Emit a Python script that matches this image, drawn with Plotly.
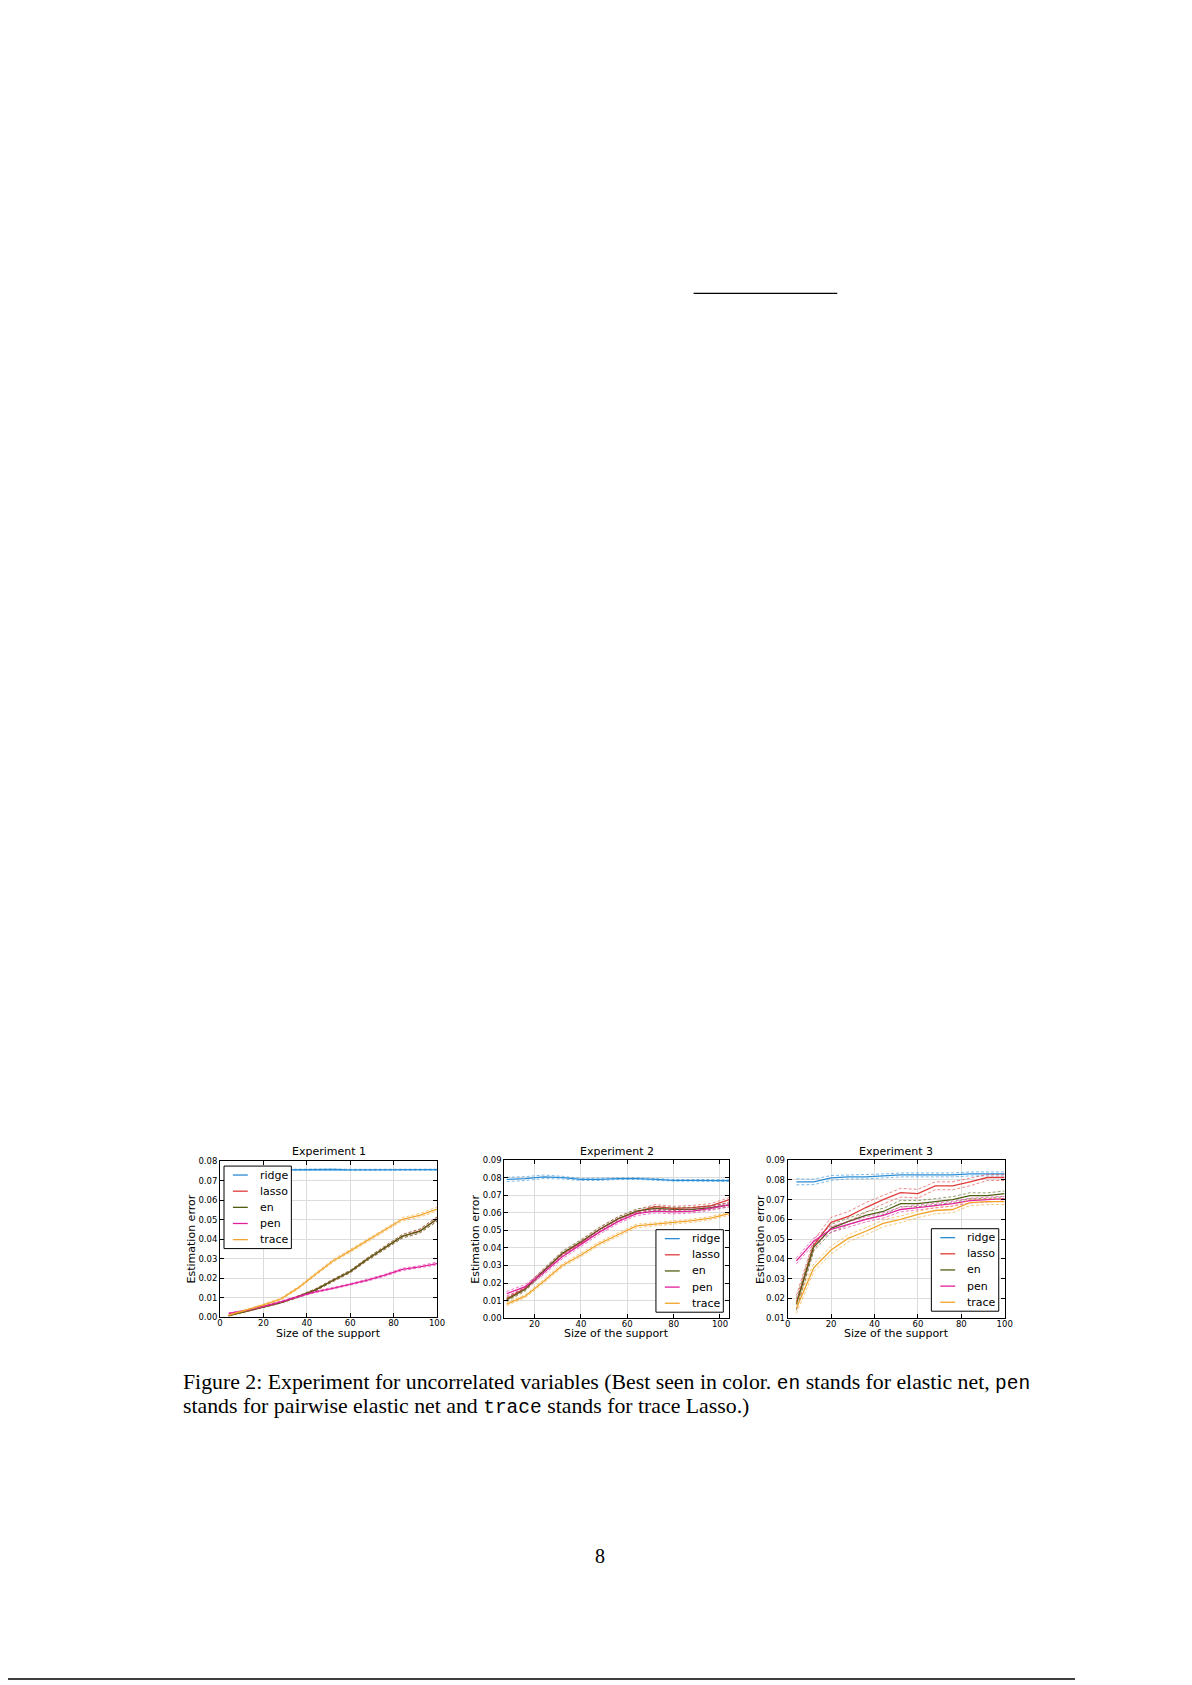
import plotly.graph_objects as go

# page size of the reference; the browser body adds an 8px margin, so the
# figure is drawn 8px smaller and all page positions are shifted by 8px.
W, H = 1192, 1685
OFF = 8
FW, FH = W - OFF, H - OFF

# ---------------- data ----------------
x_exp1 = [4, 12, 20, 28, 36, 44, 52, 60, 68, 76, 84, 92, 100]
x_exp2 = [8, 16, 24, 32, 40, 48, 56, 64, 72, 80, 88, 96, 104]
x_exp3 = [4, 12, 20, 28, 36, 44, 52, 60, 68, 76, 84, 92, 100]

series_names = ["ridge", "lasso", "en", "pen", "trace"]
experiment_titles = ["Experiment 1", "Experiment 2", "Experiment 3"]

# Experiment 1 (means)
exp1_ridge = [0.0754, 0.0753, 0.0754, 0.0755, 0.0756, 0.0756, 0.0757, 0.0755, 0.0755, 0.0756, 0.0756, 0.0757, 0.0756]
exp1_lasso = [0.0008, 0.0030, 0.0055, 0.0075, 0.0105, 0.0140, 0.0188, 0.0234, 0.0298, 0.0355, 0.0415, 0.0442, 0.0503]
exp1_en    = [0.0008, 0.0030, 0.0055, 0.0075, 0.0105, 0.0140, 0.0188, 0.0234, 0.0298, 0.0355, 0.0414, 0.0440, 0.0502]
exp1_pen   = [0.0020, 0.0035, 0.0055, 0.0078, 0.0105, 0.0130, 0.0148, 0.0168, 0.0190, 0.0215, 0.0245, 0.0258, 0.0275]
exp1_trace = [0.0010, 0.0035, 0.0063, 0.0093, 0.0150, 0.0220, 0.0288, 0.0340, 0.0393, 0.0445, 0.0502, 0.0522, 0.0554]
# Experiment 1 (standard deviations)
exp1_ridge_sd = [0.0003, 0.0003, 0.0003, 0.0003, 0.0003, 0.0003, 0.0003, 0.0003, 0.0003, 0.0003, 0.0003, 0.0003, 0.0003]
exp1_lasso_sd = [0.0002, 0.0002, 0.0003, 0.0003, 0.0004, 0.0005, 0.0006, 0.0006, 0.0007, 0.0008, 0.0009, 0.0010, 0.0011]
exp1_en_sd    = [0.0002, 0.0002, 0.0003, 0.0003, 0.0004, 0.0005, 0.0006, 0.0006, 0.0007, 0.0008, 0.0009, 0.0010, 0.0011]
exp1_pen_sd   = [0.0002, 0.0002, 0.0003, 0.0003, 0.0003, 0.0004, 0.0004, 0.0004, 0.0005, 0.0005, 0.0006, 0.0006, 0.0007]
exp1_trace_sd = [0.0002, 0.0003, 0.0004, 0.0005, 0.0006, 0.0007, 0.0007, 0.0008, 0.0008, 0.0008, 0.0009, 0.0009, 0.0010]

# Experiment 2 (means)
exp2_ridge = [0.0790, 0.0795, 0.0805, 0.0800, 0.0790, 0.0790, 0.0795, 0.0795, 0.0790, 0.0785, 0.0785, 0.0785, 0.0783]
exp2_lasso = [0.0110, 0.0170, 0.0270, 0.0365, 0.0430, 0.0505, 0.0565, 0.0605, 0.0635, 0.0625, 0.0630, 0.0640, 0.0675]
exp2_en    = [0.0105, 0.0165, 0.0270, 0.0370, 0.0435, 0.0505, 0.0565, 0.0610, 0.0625, 0.0620, 0.0620, 0.0630, 0.0645]
exp2_pen   = [0.0140, 0.0180, 0.0260, 0.0350, 0.0420, 0.0490, 0.0550, 0.0595, 0.0610, 0.0605, 0.0610, 0.0625, 0.0645]
exp2_trace = [0.0080, 0.0125, 0.0210, 0.0300, 0.0360, 0.0425, 0.0475, 0.0525, 0.0535, 0.0545, 0.0555, 0.0570, 0.0595]
# Experiment 2 (standard deviations)
exp2_ridge_sd = [0.0012, 0.0011, 0.0010, 0.0008, 0.0006, 0.0006, 0.0005, 0.0005, 0.0005, 0.0005, 0.0005, 0.0005, 0.0005]
exp2_lasso_sd = [0.0010, 0.0011, 0.0012, 0.0012, 0.0012, 0.0012, 0.0012, 0.0012, 0.0012, 0.0012, 0.0012, 0.0012, 0.0012]
exp2_en_sd    = [0.0010, 0.0011, 0.0012, 0.0012, 0.0012, 0.0012, 0.0012, 0.0012, 0.0011, 0.0011, 0.0011, 0.0011, 0.0011]
exp2_pen_sd   = [0.0012, 0.0012, 0.0012, 0.0012, 0.0012, 0.0012, 0.0011, 0.0011, 0.0011, 0.0011, 0.0011, 0.0011, 0.0011]
exp2_trace_sd = [0.0009, 0.0009, 0.0010, 0.0010, 0.0010, 0.0010, 0.0010, 0.0010, 0.0009, 0.0009, 0.0009, 0.0009, 0.0009]

# Experiment 3 (means)
exp3_ridge = [0.0790, 0.0790, 0.0810, 0.0815, 0.0815, 0.0820, 0.0825, 0.0825, 0.0825, 0.0825, 0.0830, 0.0830, 0.0830]
exp3_lasso = [0.0180, 0.0470, 0.0585, 0.0615, 0.0660, 0.0700, 0.0735, 0.0730, 0.0770, 0.0770, 0.0790, 0.0812, 0.0812]
exp3_en    = [0.0170, 0.0460, 0.0555, 0.0590, 0.0620, 0.0640, 0.0680, 0.0680, 0.0690, 0.0700, 0.0720, 0.0720, 0.0730]
exp3_pen   = [0.0390, 0.0490, 0.0550, 0.0575, 0.0600, 0.0620, 0.0650, 0.0660, 0.0670, 0.0680, 0.0695, 0.0700, 0.0705]
exp3_trace = [0.0150, 0.0355, 0.0445, 0.0505, 0.0540, 0.0580, 0.0600, 0.0625, 0.0645, 0.0650, 0.0685, 0.0690, 0.0690]
# Experiment 3 (standard deviations)
exp3_ridge_sd = [0.0015, 0.0014, 0.0012, 0.0010, 0.0010, 0.0010, 0.0010, 0.0010, 0.0010, 0.0010, 0.0010, 0.0010, 0.0010]
exp3_lasso_sd = [0.0035, 0.0025, 0.0025, 0.0025, 0.0025, 0.0022, 0.0022, 0.0022, 0.0020, 0.0020, 0.0020, 0.0015, 0.0015]
exp3_en_sd    = [0.0030, 0.0020, 0.0020, 0.0018, 0.0018, 0.0016, 0.0016, 0.0015, 0.0015, 0.0015, 0.0015, 0.0014, 0.0014]
exp3_pen_sd   = [0.0015, 0.0015, 0.0015, 0.0014, 0.0013, 0.0013, 0.0012, 0.0012, 0.0012, 0.0012, 0.0012, 0.0012, 0.0012]
exp3_trace_sd = [0.0025, 0.0020, 0.0020, 0.0018, 0.0018, 0.0017, 0.0017, 0.0016, 0.0016, 0.0016, 0.0015, 0.0015, 0.0015]

y_tick_labels_exp1 = ["0.00", "0.01", "0.02", "0.03", "0.04", "0.05", "0.06", "0.07", "0.08"]
y_tick_labels_exp2 = ["0.00", "0.01", "0.02", "0.03", "0.04", "0.05", "0.06", "0.07", "0.08", "0.09"]
y_tick_labels_exp3 = ["0.01", "0.02", "0.03", "0.04", "0.05", "0.06", "0.07", "0.08", "0.09"]
x_tick_labels_exp1 = ["0", "20", "40", "60", "80", "100"]
x_tick_labels_exp2 = ["20", "40", "60", "80", "100"]
x_tick_labels_exp3 = ["0", "20", "40", "60", "80", "100"]

MONO = "<span style='font-family:Liberation Mono;font-size:19.5px'>{}</span>"
caption_line1 = ("Figure 2: Experiment for uncorrelated variables (Best seen in color. "
                 + MONO.format("en") + " stands for elastic net, " + MONO.format("pen"))
caption_line2 = ("stands for pairwise elastic net and " + MONO.format("trace")
                 + " stands for trace Lasso.)")
page_number = "8"

# ---------------- style ----------------
colors = {"ridge": "#2b8cd6", "lasso": "#e03b3b", "en": "#4f5f12",
          "pen": "#e2209b", "trace": "#f2a42a"}
light = {"ridge": "rgba(43,140,214,0.6)", "lasso": "rgba(224,59,59,0.6)",
         "en": "rgba(79,95,18,0.6)", "pen": "rgba(226,32,155,0.6)",
         "trace": "rgba(242,164,42,0.6)"}

experiments = [
    (x_exp1, [exp1_ridge, exp1_lasso, exp1_en, exp1_pen, exp1_trace],
     [exp1_ridge_sd, exp1_lasso_sd, exp1_en_sd, exp1_pen_sd, exp1_trace_sd],
     y_tick_labels_exp1, x_tick_labels_exp1),
    (x_exp2, [exp2_ridge, exp2_lasso, exp2_en, exp2_pen, exp2_trace],
     [exp2_ridge_sd, exp2_lasso_sd, exp2_en_sd, exp2_pen_sd, exp2_trace_sd],
     y_tick_labels_exp2, x_tick_labels_exp2),
    (x_exp3, [exp3_ridge, exp3_lasso, exp3_en, exp3_pen, exp3_trace],
     [exp3_ridge_sd, exp3_lasso_sd, exp3_en_sd, exp3_pen_sd, exp3_trace_sd],
     y_tick_labels_exp3, x_tick_labels_exp3),
]

# axes boxes in page pixels: (left, right, top, bottom)
boxes = [(219, 438, 1163, 1320), (506, 733, 1162, 1321), (792, 1011, 1162, 1321)]
x_ranges = [[0, 100], [7, 104], [0, 100]]
y_ranges = [[0, 0.08], [0, 0.09], [0.01, 0.09]]
ytitle_x = [190, 477, 764]
# legend boxes: (left, top, right, bottom) page pixels
legend_boxes = [(223, 1168, 291, 1251), (659, 1232, 727, 1315), (937, 1231, 1005, 1314)]


def px(x):
    return (x - OFF) / FW


def py(y):
    return 1 - (y - OFF) / FH


fig = go.Figure()
font_sans = "DejaVu Sans"

layout = dict(
    width=FW, height=FH, margin=dict(l=0, r=0, t=0, b=0),
    paper_bgcolor="white", plot_bgcolor="white", showlegend=False,
)

annotations = []
shapes = []

for i, (xs, means, sds, ytl, xtl) in enumerate(experiments):
    k = "" if i == 0 else str(i + 1)
    xa, ya = "x" + k, "y" + k
    for name, m, s in zip(series_names, means, sds):
        lo = [a - b for a, b in zip(m, s)]
        hi = [a + b for a, b in zip(m, s)]
        for band in (lo, hi):
            fig.add_trace(go.Scatter(
                x=xs, y=band, mode="lines", xaxis=xa, yaxis=ya,
                line=dict(color=light[name], width=1, dash="3px,2px"),
                showlegend=False, hoverinfo="skip"))
        fig.add_trace(go.Scatter(
            x=xs, y=m, mode="lines", name=name, xaxis=xa, yaxis=ya,
            line=dict(color=colors[name], width=1.3), showlegend=False))

    l, r, t, b = boxes[i]
    axis_common = dict(
        showline=True, linecolor="black", linewidth=1, mirror="ticks",
        ticks="inside", ticklen=4, tickcolor="black", tickwidth=1,
        showgrid=True, gridcolor="#dcdcdc", gridwidth=1, zeroline=False,
        tickfont=dict(family=font_sans, size=8.5, color="black"),
    )
    yvals = [float(v) for v in ytl]
    xvals = [float(v) for v in xtl]
    layout["xaxis" + k] = dict(axis_common, domain=[px(l), px(r)], anchor=ya,
                               range=x_ranges[i], tickmode="array",
                               tickvals=xvals, ticktext=xtl, ticklabelstandoff=-2)
    layout["yaxis" + k] = dict(axis_common, domain=[py(b), py(t)], anchor=xa,
                               range=y_ranges[i], tickmode="array",
                               tickvals=yvals, ticktext=ytl)

    # legend drawn as a boxed key inside the axes
    L, T, R, B = legend_boxes[i]
    shapes.append(dict(type="rect", xref="paper", yref="paper", layer="above",
                       x0=px(L), x1=px(R), y0=py(B), y1=py(T),
                       fillcolor="white", line=dict(color="black", width=1)))
    step = (B - T - 18) / (len(series_names) - 1)
    for j, name in enumerate(series_names):
        yc = T + 9 + step * j
        shapes.append(dict(type="line", xref="paper", yref="paper", layer="above",
                           x0=px(L + 9), x1=px(L + 24), y0=py(yc), y1=py(yc),
                           line=dict(color=colors[name], width=1.3)))
        annotations.append(dict(text=name, x=px(L + 34), y=py(yc),
                                xref="paper", yref="paper", showarrow=False,
                                xanchor="left", yanchor="middle",
                                font=dict(family=font_sans, size=11, color="black")))

    cx = (l + r) / 2
    annotations.append(dict(text=experiment_titles[i], x=px(cx), y=py(1153),
                            xref="paper", yref="paper", showarrow=False,
                            xanchor="center", yanchor="middle",
                            font=dict(family=font_sans, size=11, color="black")))
    annotations.append(dict(text="Size of the support", x=px(cx), y=py(1336),
                            xref="paper", yref="paper", showarrow=False,
                            xanchor="center", yanchor="middle",
                            font=dict(family=font_sans, size=11, color="black")))
    annotations.append(dict(text="Estimation error", x=px(ytitle_x[i]), y=py((t + b) / 2),
                            xref="paper", yref="paper", showarrow=False, textangle=-90,
                            xanchor="center", yanchor="middle",
                            font=dict(family=font_sans, size=11, color="black")))

serif = "Liberation Serif"
annotations.append(dict(text=caption_line1, x=px(180), y=py(1386), xref="paper", yref="paper",
                        showarrow=False, xanchor="left", yanchor="middle",
                        font=dict(family=serif, size=21.8, color="black")))
annotations.append(dict(text=caption_line2, x=px(180), y=py(1410), xref="paper", yref="paper",
                        showarrow=False, xanchor="left", yanchor="middle",
                        font=dict(family=serif, size=21.8, color="black")))
annotations.append(dict(text=page_number, x=px(603), y=py(1560), xref="paper", yref="paper",
                        showarrow=False, xanchor="center", yanchor="middle",
                        font=dict(family=serif, size=20, color="black")))

shapes.append(dict(type="line", xref="paper", yref="paper", x0=px(697), x1=px(842),
                   y0=py(290), y1=py(290), line=dict(color="black", width=1.3)))
shapes.append(dict(type="line", xref="paper", yref="paper", x0=px(0), x1=px(1082),
                   y0=py(1684), y1=py(1684), line=dict(color="black", width=1.3)))

layout["annotations"] = annotations
layout["shapes"] = shapes
fig.update_layout(**layout)
fig.write_html("out.html")
